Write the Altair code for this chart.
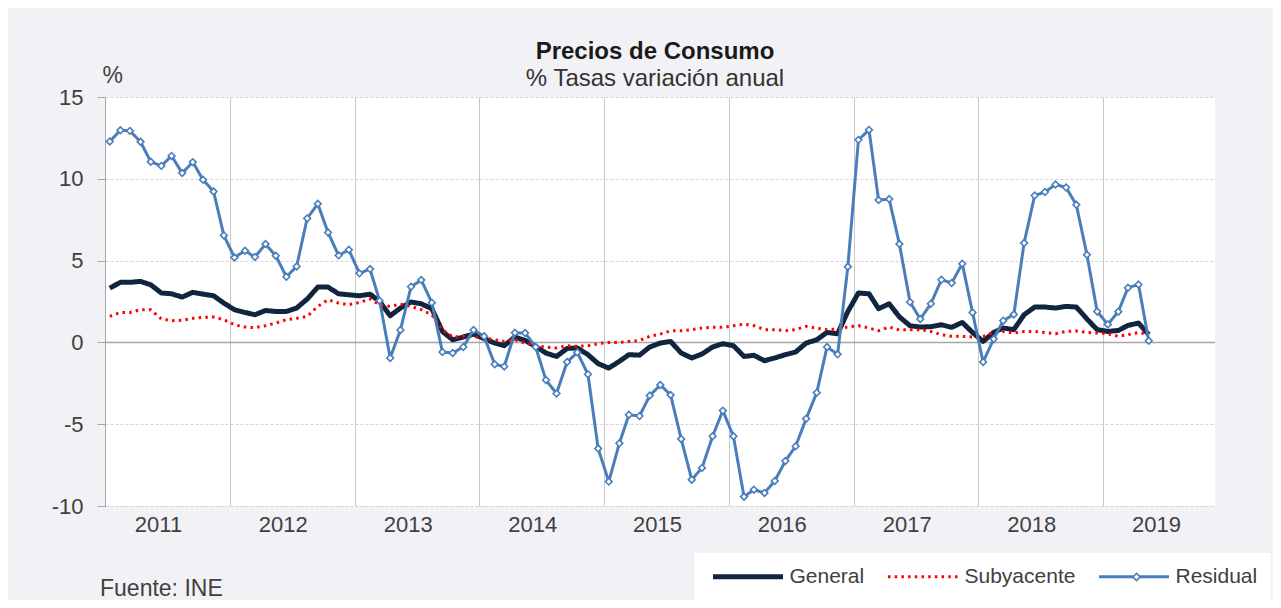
import altair as alt
import pandas as pd

start_year = 2011
series = ["General", "Subyacente", "Residual"]
series_colors = ["#11253f", "#ff0000", "#4a7ebb"]
series_widths = [5, 3, 3]
series_dash = [[1, 0], [2.5, 4.2], [1, 0]]

general = [3.32, 3.67, 3.67, 3.73, 3.52, 3.02, 2.97, 2.77, 3.06, 2.95, 2.85, 2.40,
           2.00, 1.83, 1.69, 1.95, 1.89, 1.89, 2.10, 2.65, 3.38, 3.38, 2.97, 2.91,
           2.85, 2.95, 2.50, 1.63, 2.10, 2.47, 2.36, 2.06, 0.67, 0.16, 0.33, 0.51,
           0.23, -0.04, -0.20, 0.33, 0.12, -0.24, -0.65, -0.86, -0.37, -0.34, -0.75, -1.30,
           -1.57, -1.16, -0.75, -0.78, -0.28, -0.04, 0.06, -0.65, -0.95, -0.71, -0.28, -0.08,
           -0.20, -0.86, -0.79, -1.12, -0.95, -0.75, -0.59, -0.04, 0.16, 0.61, 0.53, 1.89,
           3.02, 2.97, 2.06, 2.36, 1.56, 1.02, 0.94, 0.96, 1.08, 0.92, 1.22, 0.61,
           0.06, 0.61, 0.88, 0.78, 1.69, 2.16, 2.16, 2.10, 2.20, 2.16, 1.43, 0.78,
           0.67, 0.73, 1.04, 1.18, 0.47]

subyacente = [1.59, 1.83, 1.83, 2.00, 2.00, 1.43, 1.33, 1.35, 1.47, 1.53, 1.55, 1.39,
              1.08, 0.94, 0.90, 1.02, 1.18, 1.39, 1.47, 1.59, 2.20, 2.61, 2.40, 2.30,
              2.44, 2.65, 2.30, 2.20, 2.34, 2.20, 2.00, 1.69, 0.78, 0.33, 0.37, 0.37,
              0.27, 0.16, 0.06, 0.16, -0.04, -0.20, -0.28, -0.34, -0.20, -0.24, -0.20, -0.08,
              0.00, 0.00, 0.06, 0.12, 0.37, 0.51, 0.71, 0.71, 0.78, 0.88, 0.92, 0.92,
              1.02, 1.12, 1.02, 0.78, 0.78, 0.71, 0.78, 0.98, 0.86, 0.78, 0.82, 0.94,
              1.02, 0.88, 0.71, 0.94, 0.76, 0.78, 0.78, 0.67, 0.47, 0.37, 0.37, 0.33,
              0.37, 0.61, 0.67, 0.57, 0.67, 0.67, 0.61, 0.53, 0.67, 0.70, 0.61, 0.57,
              0.53, 0.37, 0.47, 0.61, 0.47]

residual = [12.28, 12.97, 12.93, 12.26, 11.04, 10.79, 11.40, 10.35, 11.02, 9.94, 9.22, 6.54,
            5.19, 5.60, 5.22, 6.01, 5.30, 4.01, 4.64, 7.58, 8.47, 6.72, 5.32, 5.66,
            4.22, 4.48, 2.55, -0.95, 0.76, 3.40, 3.81, 2.43, -0.59, -0.65, -0.28, 0.76,
            0.37, -1.34, -1.47, 0.59, 0.57, -0.28, -2.30, -3.12, -1.20, -0.61, -1.95, -6.49,
            -8.51, -6.17, -4.42, -4.50, -3.25, -2.60, -3.21, -5.90, -8.39, -7.67, -5.74, -4.17,
            -5.74, -9.43, -9.00, -9.20, -8.47, -7.25, -6.35, -4.66, -3.07, -0.28, -0.73, 4.62,
            12.38, 12.99, 8.70, 8.76, 6.01, 2.47, 1.43, 2.36, 3.83, 3.63, 4.81, 1.83,
            -1.20, 0.21, 1.33, 1.71, 6.07, 8.98, 9.19, 9.65, 9.47, 8.41, 5.36, 1.89,
            1.10, 1.88, 3.34, 3.54, 0.10]

year_ticks = list(range(2011, 2020))
y_ticks = [-10, -5, 0, 5, 10, 15]
source_text = ["Fuente: INE"]

FONT = "Liberation Sans"
TXT = "#404040"
RES_COLOR = "#4a7ebb"

n = len(general)
dates = [f"{start_year + i // 12}-{i % 12 + 1:02d}-15" for i in range(n)]
rows = []
for name, vals in zip(series, [general, subyacente, residual]):
    for d, v in zip(dates, vals):
        rows.append({"fecha": d, "valor": v, "serie": name})
df = pd.DataFrame(rows)

x_scale = alt.Scale(type="utc",
                    domain=[alt.DateTime(year=2011, month=1, date=1, utc=True),
                            alt.DateTime(year=2019, month=11, date=25, utc=True)])
y_scale = alt.Scale(domain=[-10, 15], nice=False, zero=False)

x_axis = alt.Axis(values=[alt.DateTime(year=y, month=1, date=1, utc=True) for y in year_ticks],
                  format="%Y", grid=True, gridColor="#c8c8c8", gridWidth=1,
                  domain=False, ticks=False, labelOffset=53, labelFlush=False,
                  labelPadding=8, labelFontSize=22, labelColor=TXT, labelFont=FONT,
                  title=None)
y_axis = alt.Axis(values=y_ticks, grid=True, gridDash=[3, 2], gridColor="#d4d4d4",
                  domainColor="#a6a6a6", tickColor="#a6a6a6", tickSize=8,
                  labelExpr="'' + datum.value",
                  labelFontSize=22, labelPadding=14, labelColor=TXT, labelFont=FONT,
                  title="%", titleAngle=0, titleX=-3, titleY=-15, titleAlign="left",
                  titleBaseline="alphabetic", titleFontSize=23, titleFontWeight="normal",
                  titleColor=TXT, titleFont=FONT)

legend = alt.Legend(orient="none", legendX=589.5, legendY=456, direction="horizontal",
                    title=None, fillColor="white", padding=13, labelFontSize=21,
                    labelFont=FONT, labelColor=TXT, symbolType="M-1,0H13", symbolSize=100,
                    columnPadding=17, labelOffset=61)

marker_legend = alt.Legend(orient="none", legendX=1027, legendY=475.5, title=None,
                           labelExpr="''", labelFontSize=1, padding=0,
                           symbolType="diamond", symbolFillColor="white",
                           symbolStrokeWidth=1.6, symbolSize=50, symbolOpacity=1)

base = alt.Chart(df)

zero_line = alt.Chart(pd.DataFrame({"y": [0]})).mark_rule(
    color="#a6a6a6", strokeWidth=1.5
).encode(y=alt.Y("y:Q", scale=y_scale, axis=y_axis))

lines = base.mark_line(strokeJoin="round", strokeCap="butt").encode(
    x=alt.X("fecha:T", scale=x_scale, axis=x_axis),
    y=alt.Y("valor:Q", scale=y_scale, axis=y_axis),
    color=alt.Color("serie:N", scale=alt.Scale(domain=series, range=series_colors), legend=legend),
    strokeDash=alt.StrokeDash("serie:N", scale=alt.Scale(domain=series, range=series_dash), legend=legend),
    strokeWidth=alt.StrokeWidth("serie:N", scale=alt.Scale(type="ordinal", domain=series, range=series_widths), legend=legend),
)

points = base.transform_filter(alt.datum.serie == "Residual").mark_point(
    shape="diamond", filled=False, fill="white", strokeWidth=1.6, size=45, opacity=1
).encode(
    x=alt.X("fecha:T", scale=x_scale, axis=x_axis),
    y=alt.Y("valor:Q", scale=y_scale, axis=y_axis),
    stroke=alt.Stroke("serie:N", scale=alt.Scale(domain=["Residual"], range=[RES_COLOR]),
                      legend=marker_legend),
)

source = alt.Chart(pd.DataFrame({"t": source_text})).mark_text(
    align="left", baseline="alphabetic", fontSize=23, font=FONT, color=TXT
).encode(x=alt.value(-5), y=alt.value(499), text="t:N")

chart = alt.layer(zero_line, lines, points, source).properties(
    width=1110, height=409,
    title=alt.Title("Precios de Consumo", subtitle="% Tasas variación anual",
                    fontSize=24, fontWeight="bold", subtitleFontSize=24,
                    font=FONT, subtitleFont=FONT, color="#1a1a1a", subtitleColor="#333333",
                    anchor="middle", offset=-27, subtitlePadding=3, dx=-5),
    autosize=alt.AutoSizeParams(type="none"),
    padding={"left": 97, "top": 89, "right": 58, "bottom": 94},
    background="#f2f2f6",
).configure_view(fill="white", strokeWidth=0)

chart.save("out.html", embed_options={"renderer": "svg", "actions": False})
